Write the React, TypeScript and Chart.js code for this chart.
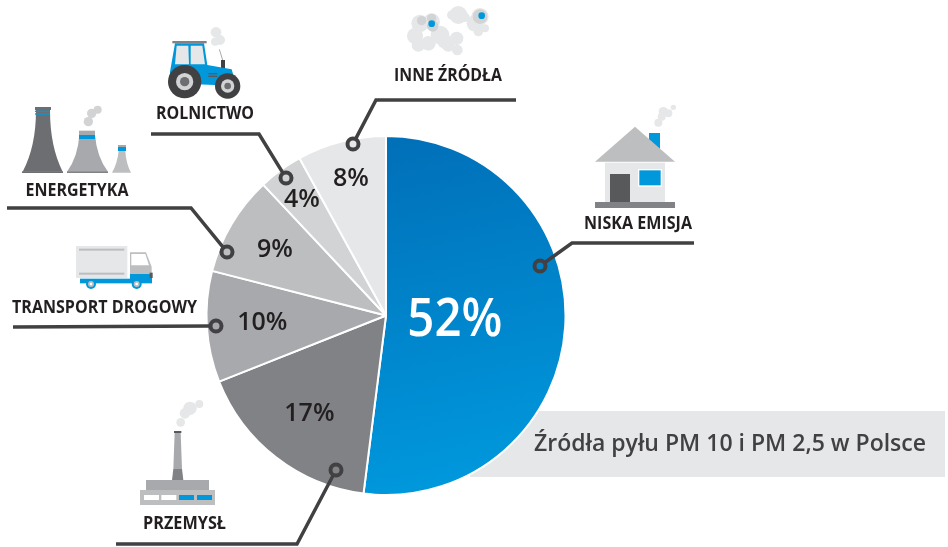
import React, { useEffect, useRef } from "react";
import { Chart, registerables } from "chart.js";

Chart.register(...registerables);

const categories = ["NISKA EMISJA", "PRZEMYSŁ", "TRANSPORT DROGOWY", "ENERGETYKA", "ROLNICTWO", "INNE ŹRÓDŁA"];
const values = [52, 17, 10, 9, 4, 8];
const sliceColors = ["#0083cb", "#808285", "#a7a9ac", "#bcbec0", "#d1d3d4", "#e6e7e8"];
const labelRadii = [69, 125, 124, 129, 143, 141];
const labelNudgeY = [1, 0, 0, 0, 0, 0];
const labelFonts = [52, 25, 25, 25, 25, 25];
const labelColors = ["#ffffff", "#231f20", "#231f20", "#231f20", "#231f20", "#231f20"];
const title = "Źródła pyłu PM 10 i PM 2,5 w Polsce";

// Category captions: x centre, y centre, fitted width
const captionX = [638, 184.5, 104.5, 77, 205, 448];
const captionY = [224, 524, 308, 191, 114, 76];
const captionW = [108, 83, 185, 103, 98, 108];

// Leader polylines, ring first
const leaders: number[][][] = [
  [[540, 266], [572, 243], [694, 243]],
  [[336, 470], [297, 544], [116, 544]],
  [[216, 326], [13, 327]],
  [[227, 252], [191, 208], [7, 208]],
  [[286, 178], [259, 134], [151, 134]],
  [[353, 144], [376, 100], [516, 100]],
];

const BLUE = "#0098da";
const L1 = "#e6e7e8";
const L2 = "#d1d3d4";
const L3 = "#bcbec0";
const M1 = "#a7a9ac";
const M2 = "#808285";
const D1 = "#6d6e71";
const D2 = "#58595b";
const D3 = "#414042";

type C = CanvasRenderingContext2D;
const circle = (c: C, x: number, y: number, r: number, f: string) => {
  c.fillStyle = f;
  c.beginPath();
  c.arc(x, y, r, 0, Math.PI * 2);
  c.fill();
};
const rect = (c: C, x: number, y: number, w: number, h: number, f: string) => {
  c.fillStyle = f;
  c.fillRect(x, y, w, h);
};
const path = (c: C, d: string, f: string) => {
  c.fillStyle = f;
  c.fill(new Path2D(d));
};

function tractor(c: C) {
  [[648, 97, 16], [660, 120, 15], [645, 125, 12]].forEach(([x, y, r]) => circle(c, x, y, r, L1));
  c.strokeStyle = M1;
  c.lineWidth = 3;
  c.beginPath();
  c.moveTo(658, 148);
  c.lineTo(668, 180);
  c.stroke();
  rect(c, 663, 180, 12, 28, D3);
  rect(c, 517, 123, 103, 7, M2);
  path(c, "M525 130 L612 130 L622 195 L695 208 L700 225 L720 258 L510 250 L510 215 Z", BLUE);
  path(c, "M530 137 L565 137 L567 193 L525 193 Z", L1);
  path(c, "M572 137 L607 137 L615 193 L572 193 Z", L1);
  rect(c, 625, 219, 27, 4, D2);
  rect(c, 625, 227, 27, 4, D2);
  circle(c, 554, 245, 50, D3);
  circle(c, 554, 245, 26, L2);
  circle(c, 554, 245, 14, D1);
  circle(c, 683, 258, 38, D3);
  circle(c, 683, 258, 20, L2);
  circle(c, 683, 258, 10, D1);
}

function towers(c: C) {
  path(c, "M108 330 L150 330 Q150 440 188 515 L68 515 Q108 440 108 330 Z", D1);
  rect(c, 105, 321, 48, 9, D1);
  rect(c, 105, 332, 45, 4, BLUE);
  rect(c, 105, 340, 45, 4, BLUE);
  rect(c, 66, 514, 123, 5, D1);
  [[293, 329, 12], [275, 340, 14], [265, 365, 14]].forEach(([x, y, r]) => circle(c, x, y, r, L2));
  path(c, "M238 404 L285 404 Q290 470 324 515 L201 515 Q234 470 238 404 Z", M1);
  rect(c, 237, 392, 48, 13, M1);
  rect(c, 237, 405, 48, 12, BLUE);
  rect(c, 201, 514, 123, 5, M2);
  path(c, "M356 452 L376 452 Q378 490 393 518 L336 518 Q352 490 356 452 Z", L3);
  rect(c, 354, 435, 24, 6, M1);
  rect(c, 354, 441, 24, 12, BLUE);
}

function truck(c: C) {
  rect(c, 228, 738, 154, 96, L1);
  rect(c, 237, 746, 136, 6, L3);
  rect(c, 237, 818, 136, 6, L3);
  path(c, "M390 757 L438 757 L455 800 L455 824 L390 824 Z", L3);
  path(c, "M394 762 L436 762 L447 796 L394 796 Z", "#ffffff");
  rect(c, 240, 836, 216, 14, BLUE);
  rect(c, 390, 822, 66, 16, BLUE);
  rect(c, 449, 818, 9, 16, D2);
  [273, 410].forEach((x) => {
    circle(c, x, 852, 15, BLUE);
    circle(c, x, 852, 9, L3);
    circle(c, x, 852, 4, "#ffffff");
  });
}

function clouds(c: C) {
  [[120, 70, 26], [155, 65, 25], [105, 108, 24], [115, 135, 20], [145, 130, 22], [180, 105, 28], [195, 125, 22], [230, 115, 20], [232, 150, 16], [205, 135, 20]].forEach(([x, y, r]) => circle(c, x, y, r, L1));
  [[125, 62, 14], [158, 78, 17], [155, 55, 14]].forEach(([x, y, r]) => circle(c, x, y, r, L2));
  circle(c, 155, 71, 10, BLUE);
  [[235, 45, 27], [215, 45, 14], [255, 52, 14], [285, 70, 25], [300, 50, 26], [295, 95, 14], [315, 85, 12]].forEach(([x, y, r]) => circle(c, x, y, r, L1));
  circle(c, 300, 50, 22, L2);
  circle(c, 305, 47, 10, BLUE);
}

function house(c: C) {
  [[880, 322, 8], [850, 335, 14], [865, 340, 12], [845, 350, 12], [835, 368, 12]].forEach(([x, y, r]) => circle(c, x, y, r, L1));
  rect(c, 807, 399, 33, 50, BLUE);
  path(c, "M765 380 L885 485 L645 485 Z", L3);
  rect(c, 675, 488, 180, 118, L1);
  rect(c, 690, 522, 60, 86, D2);
  rect(c, 774, 507, 72, 53, "#ffffff");
  rect(c, 778, 511, 64, 45, BLUE);
  rect(c, 645, 606, 240, 18, M2);
}

function factory(c: C) {
  [[298, 42, 12], [270, 55, 20], [255, 70, 16], [242, 97, 13]].forEach(([x, y, r]) => circle(c, x, y, r, L1));
  path(c, "M224 128 L242 128 L246 237 L220 237 Z", M1);
  rect(c, 222, 123, 22, 6, D2);
  path(c, "M220 237 L246 237 L250 270 L216 270 Z", M2);
  rect(c, 138, 270, 189, 30, M1);
  rect(c, 120, 300, 225, 45, L3);
  rect(c, 132, 315, 45, 15, "#ffffff");
  rect(c, 184, 315, 45, 15, "#ffffff");
  rect(c, 237, 315, 45, 15, BLUE);
  rect(c, 291, 315, 45, 15, BLUE);
}

function icon(c: C, ox: number, oy: number, draw: (c: C) => void) {
  c.save();
  c.translate(ox, oy);
  c.scale(1 / 3, 1 / 3);
  draw(c);
  c.restore();
}

const decor = {
  id: "decor",
  beforeDatasetsDraw(chart: any) {
    const c: C = chart.ctx;
    rect(c, 470, 411, 475, 66, "#e6e7e8");
  },
  afterDatasetsDraw(chart: any) {
    const c: C = chart.ctx;
    c.save();

    // leaders
    c.strokeStyle = D3;
    c.lineJoin = "miter";
    leaders.forEach((pts) => {
      const [p0, p1] = pts;
      const a = Math.atan2(p1[1] - p0[1], p1[0] - p0[0]);
      c.lineWidth = 3.5;
      c.beginPath();
      c.moveTo(p0[0] + Math.cos(a) * 6, p0[1] + Math.sin(a) * 6);
      pts.slice(1).forEach((p) => c.lineTo(p[0], p[1]));
      c.stroke();
      c.lineWidth = 4;
      c.beginPath();
      c.arc(p0[0], p0[1], 5.5, 0, Math.PI * 2);
      c.stroke();
    });

    // icons
    icon(c, 0, 0, tractor);
    icon(c, 0, 0, towers);
    icon(c, 0, 0, truck);
    icon(c, 380, 0, clouds);
    icon(c, 380, 0, house);
    icon(c, 100, 390, factory);

    // percentage labels
    c.textAlign = "center";
    c.textBaseline = "middle";
    const meta = chart.getDatasetMeta(0);
    meta.data.forEach((arc: any, i: number) => {
      const { startAngle, endAngle, x, y } = arc.getProps(["startAngle", "endAngle", "x", "y"], true);
      const mid = (startAngle + endAngle) / 2;
      c.font = `600 ${labelFonts[i]}px "Open Sans"`;
      c.fillStyle = labelColors[i];
      c.fillText(`${values[i]}%`, x + Math.cos(mid) * labelRadii[i], y + Math.sin(mid) * labelRadii[i] + labelNudgeY[i], i === 0 ? 95 : 999);
    });

    // captions
    c.fillStyle = "#231f20";
    c.font = '700 18.5px "Open Sans"';
    categories.forEach((t, i) => c.fillText(t, captionX[i], captionY[i], captionW[i]));

    // title
    c.fillStyle = D3;
    c.font = '600 24px "Open Sans"';
    c.fillText(title, 730, 444, 392);
    c.restore();
  },
};

export default function App() {
  const ref = useRef<HTMLCanvasElement>(null);
  useEffect(() => {
    const canvas = ref.current!;
    const chart = new Chart(canvas, {
      type: "pie",
      data: {
        labels: categories,
        datasets: [
          {
            data: values,
            backgroundColor: (ctx: any) => {
              if (ctx.dataIndex !== 0) return sliceColors[ctx.dataIndex];
              const g = ctx.chart.ctx.createLinearGradient(420, 137, 500, 494);
              g.addColorStop(0, "#0070b9");
              g.addColorStop(1, "#009ade");
              return g;
            },
            borderColor: "#ffffff",
            borderWidth: 2,
          },
        ],
      },
      options: {
        responsive: false,
        animation: false,
        layout: { padding: { left: 0, right: 176, top: 135, bottom: 51 } },
        plugins: { legend: { display: false }, tooltip: { enabled: false } },
      },
      plugins: [decor],
    } as any);
    return () => chart.destroy();
  }, []);
  return (
    <div style={{ position: "absolute", left: 0, top: 0, width: 948, height: 547, background: "#fff" }}>
      <canvas ref={ref} width={948} height={547} style={{ display: "block" }} />
    </div>
  );
}
